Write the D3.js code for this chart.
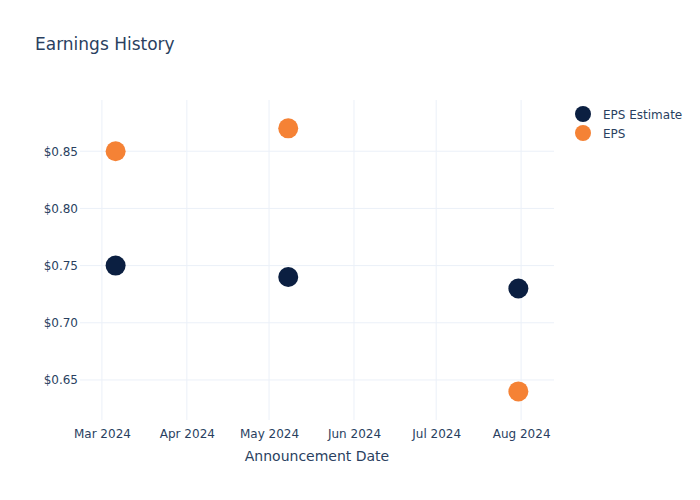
<!DOCTYPE html>
<html><head><meta charset="utf-8">
<script src="https://cdn.jsdelivr.net/npm/d3@7"></script>
<style>body{margin:0;background:#fff;} text{font-family:"DejaVu Sans",Verdana,sans-serif;}</style>
</head><body>
<svg id="c" width="700" height="500"></svg>
<script>
const dates = ["2024-03-06", "2024-05-08", "2024-07-31"];
const epsEstimate = [0.75, 0.74, 0.73];
const eps = [0.85, 0.87, 0.64];
const yTicks = [0.65, 0.70, 0.75, 0.80, 0.85];
const xTicks = ["2024-03-01","2024-04-01","2024-05-01","2024-06-01","2024-07-01","2024-08-01"];
const seriesNames = ["EPS Estimate", "EPS"];
const colors = ["#0b1f41", "#f58235"];

const parse = d3.utcParse("%Y-%m-%d");
const svg = d3.select("#c");
const L = 80, R = 554, T = 100, B = 420;
const x = d3.scaleUtc().domain([parse("2024-02-22"), parse("2024-08-13")]).range([L, R]);
const y = d3.scaleLinear().domain([0.615, 0.8948]).range([B, T]);
const textColor = "#2a3f5f";

// grid
svg.append("g").selectAll("line").data(xTicks).join("line")
  .attr("x1", d => x(parse(d))).attr("x2", d => x(parse(d)))
  .attr("y1", T).attr("y2", B).attr("stroke", "#ebf0f8").attr("stroke-width", 1);
svg.append("g").selectAll("line").data(yTicks).join("line")
  .attr("x1", L).attr("x2", R)
  .attr("y1", d => y(d)).attr("y2", d => y(d)).attr("stroke", "#ebf0f8").attr("stroke-width", 1);

// axes
const xAxis = d3.axisBottom(x).tickValues(xTicks.map(parse)).tickFormat(d3.utcFormat("%b %Y")).tickSize(0).tickPadding(9);
const gx = svg.append("g").attr("transform", `translate(0,${B})`).call(xAxis);
gx.select(".domain").remove();
gx.selectAll("text").attr("fill", textColor).attr("font-size", 12).attr("font-family", "DejaVu Sans");

const yAxis = d3.axisLeft(y).tickValues(yTicks).tickFormat(d => "$" + d3.format(".2f")(d)).tickSize(0).tickPadding(2);
const gy = svg.append("g").attr("transform", `translate(${L},0)`).call(yAxis);
gy.select(".domain").remove();
gy.selectAll("text").attr("fill", textColor).attr("font-size", 12).attr("font-family", "DejaVu Sans");

// points
const series = [epsEstimate, eps];
series.forEach((vals, i) => {
  svg.append("g").selectAll("circle").data(vals).join("circle")
    .attr("cx", (d, j) => x(parse(dates[j])))
    .attr("cy", d => y(d))
    .attr("r", 10)
    .attr("fill", colors[i]);
});

// title
svg.append("text").attr("x", 35).attr("y", 50).attr("fill", textColor).attr("font-size", 17).text("Earnings History");
// x title
svg.append("text").attr("x", (L + R) / 2).attr("y", 461).attr("text-anchor", "middle").attr("fill", textColor).attr("font-size", 14).text("Announcement Date");

// legend
seriesNames.forEach((n, i) => {
  const ly = 114 + i * 19;
  svg.append("circle").attr("cx", 583).attr("cy", ly).attr("r", 8).attr("fill", colors[i]);
  svg.append("text").attr("x", 603).attr("y", ly + 4.5).attr("fill", textColor).attr("font-size", 12).text(n);
});
</script>
</body></html>
